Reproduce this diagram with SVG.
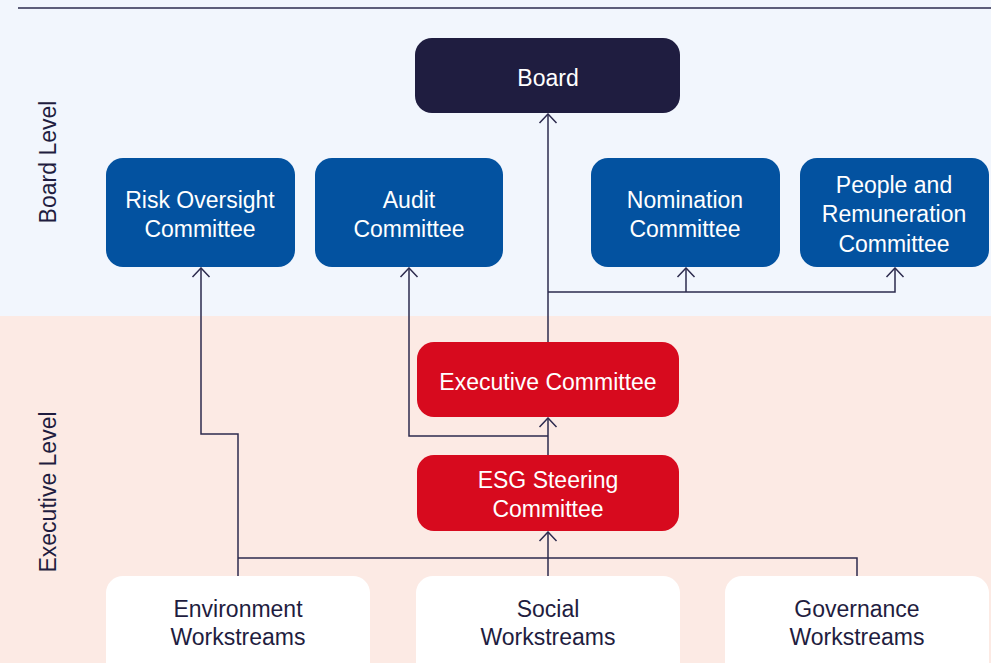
<svg xmlns="http://www.w3.org/2000/svg" width="991" height="663" viewBox="0 0 991 663">
<defs>
<style>
.t{font-family:"Liberation Sans",Arial,sans-serif;font-size:23px;text-anchor:middle}
.w{fill:#ffffff}
.d{fill:#1F1D40}
.c{fill:none;stroke:#2D2B4E;stroke-width:1.5}
.blue{fill:#0352A0}
.red{fill:#D70A1E}
.wht{fill:#ffffff}
</style>
<marker id="ah" viewBox="0 0 12 20" refX="10.5" refY="10" markerWidth="12" markerHeight="20" markerUnits="userSpaceOnUse" orient="auto">
<path d="M1.5,1.5 L10.5,10 L1.5,18.5" fill="none" stroke="#2D2B4E" stroke-width="1.5"/>
</marker>
</defs>
<rect x="0" y="0" width="991" height="316" fill="#F2F6FD"/>
<rect x="0" y="316" width="991" height="347" fill="#FCEAE4"/>
<line x1="18" y1="8" x2="991" y2="8" stroke="#2D2B4E" stroke-width="1.3"/>
<text class="t d" transform="translate(56,162) rotate(-90)">Board Level</text>
<text class="t d" transform="translate(56,492) rotate(-90)">Executive Level</text>

<g id="connectors">
<path class="c" d="M548,342 V114" marker-end="url(#ah)"/>
<path class="c" d="M548,292 H895 V268" marker-end="url(#ah)"/>
<path class="c" d="M686,292 V268" marker-end="url(#ah)"/>
<path class="c" d="M548,455 V418" marker-end="url(#ah)"/>
<path class="c" d="M548,436 H409 V268" marker-end="url(#ah)"/>
<path class="c" d="M238,576 V434 H201 V268" marker-end="url(#ah)"/>
<path class="c" d="M238,558 H857 V576"/>
<path class="c" d="M548,576 V532" marker-end="url(#ah)"/>
</g>

<g id="board">
<rect x="415" y="38" width="265" height="75" rx="17" fill="#1F1D40"/>
<text class="t w" x="548" y="86">Board</text>
</g>
<g id="risk">
<rect class="blue" x="106" y="158" width="189" height="109" rx="17"/>
<text class="t w" x="200" y="208">Risk Oversight</text>
<text class="t w" x="200" y="237">Committee</text>
</g>
<g id="audit">
<rect class="blue" x="315" y="158" width="188" height="109" rx="17"/>
<text class="t w" x="409" y="208">Audit</text>
<text class="t w" x="409" y="237">Committee</text>
</g>
<g id="nomination">
<rect class="blue" x="591" y="158" width="189" height="109" rx="17"/>
<text class="t w" x="685" y="208">Nomination</text>
<text class="t w" x="685" y="237">Committee</text>
</g>
<g id="people">
<rect class="blue" x="800" y="158" width="189" height="109" rx="17"/>
<text class="t w" x="894" y="193">People and</text>
<text class="t w" x="894" y="222">Remuneration</text>
<text class="t w" x="894" y="252">Committee</text>
</g>
<g id="executive">
<rect class="red" x="417" y="342" width="262" height="75" rx="17"/>
<text class="t w" x="548" y="390">Executive Committee</text>
</g>
<g id="esg">
<rect class="red" x="417" y="455" width="262" height="76" rx="17"/>
<text class="t w" x="548" y="488">ESG Steering</text>
<text class="t w" x="548" y="517">Committee</text>
</g>
<g id="environment">
<rect class="wht" x="106" y="576" width="264" height="110" rx="17"/>
<text class="t d" x="238" y="617">Environment</text>
<text class="t d" x="238" y="645">Workstreams</text>
</g>
<g id="social">
<rect class="wht" x="416" y="576" width="264" height="110" rx="17"/>
<text class="t d" x="548" y="617">Social</text>
<text class="t d" x="548" y="645">Workstreams</text>
</g>
<g id="governance">
<rect class="wht" x="725" y="576" width="264" height="110" rx="17"/>
<text class="t d" x="857" y="617">Governance</text>
<text class="t d" x="857" y="645">Workstreams</text>
</g>
</svg>
